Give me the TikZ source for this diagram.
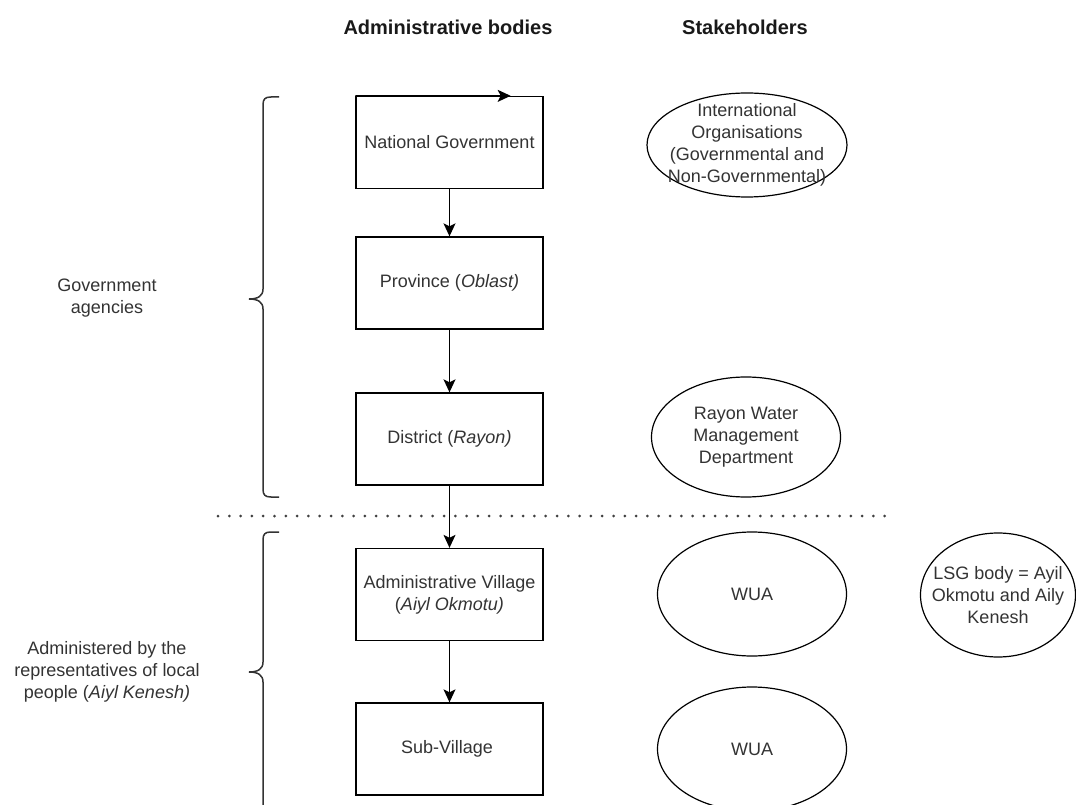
\documentclass[tikz,border=0pt]{standalone}
\usepackage{fontspec}
\setmainfont{Liberation Sans}
\usetikzlibrary{shapes.geometric,arrows.meta,calc}

\begin{document}
\begin{tikzpicture}[x=1pt,y=-1pt,
    every node/.style={font=\fontsize{18}{22}\selectfont, text=black!80},
    level/.style={rectangle, draw, line width=1.3pt, minimum width=187pt, minimum height=92pt, inner sep=0pt, align=center},
    party/.style={ellipse, draw, line width=1.2pt, inner xsep=-30pt, inner ysep=-20pt, align=center},
    flow/.style={line width=1.3pt, -{Stealth[length=13pt,width=12pt,inset=3pt]}},
    curly/.style={line width=1.5pt, black!80},
    heading/.style={font=\fontsize{20}{24}\selectfont\bfseries, text=black!90}]
    \clip (0,0) rectangle (1076,805);

    % Column headings
    \node[heading] (adminhead) at (448,27) {Administrative bodies};
    \node[heading] (stakehead) at (745,27) {Stakeholders};

    % Administrative levels
    \foreach \name/\y/\txt in {
        natgov/142.5/{National Government},
        province/283/{Province (\textit{Oblast)}},
        district/439/{District (\textit{Rayon)}},
        village/594.5/{Administrative Village\\(\textit{Aiyl Okmotu)}},
        subvillage/749/{Sub-Village}
    } {
        \node[level] (\name) at (449.5,\y) {\txt};
    }

    % Hierarchy arrows
    \foreach \a/\b in {natgov/province, province/district, district/village, village/subvillage} {
        \draw[flow] (\a) -- (\b);
    }
    \coordinate (natgov tip) at ($(natgov.north west)!0.825!(natgov.north east)$);
    \draw[flow] (natgov.north west) -- (natgov tip);

    % Stakeholders
    \node[party, minimum width=200pt, minimum height=104pt] (intorg) at (747,145)
        {International\\Organisations\\(Governmental and\\Non-Governmental)};
    \node[party, minimum width=189pt, minimum height=120pt] (rayonwater) at (746,437)
        {Rayon Water\\Management\\Department};
    \node[party, minimum width=189pt, minimum height=124pt] (wua1) at (752,594) {WUA};
    \node[party, minimum width=189pt, minimum height=124pt] (wua2) at (752,749) {WUA};
    \node[party, minimum width=155pt, minimum height=124pt] (lsg) at (998,595)
        {LSG body = Ayil\\Okmotu and Aily\\Kenesh};

    % Separator
    \draw[line width=3pt, black!75, line cap=round, dash pattern=on 0pt off 11.3pt] (218,516) -- (895,516);

    % Braces and groups
    \foreach \top/\mid/\bot in {97/299/497, 532/672/812} {
        \draw[curly] (279,\top) -- (271,\top) .. controls (265,\top) and (263,\top+2) .. (263,\top+8)
            -- (263,\mid-10) .. controls (263,\mid-3) and (258,\mid) .. (249,\mid)
            .. controls (258,\mid) and (263,\mid+3) .. (263,\mid+10)
            -- (263,\bot-8) .. controls (263,\bot-2) and (265,\bot) .. (271,\bot) -- (279,\bot);
    }
    \node[align=center] (govlabel) at (107,298) {Government\\agencies};
    \node[align=center] (locallabel) at (107,672)
        {Administered by the\\representatives of local\\people (\textit{Aiyl Kenesh)}};
\end{tikzpicture}
\end{document}
